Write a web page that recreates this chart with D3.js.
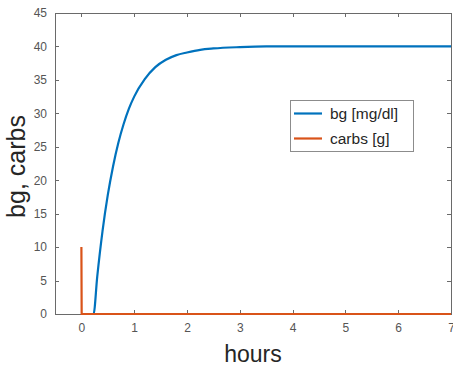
<!DOCTYPE html>
<html>
<head>
<meta charset="utf-8">
<script src="https://cdn.jsdelivr.net/npm/d3@7"></script>
<style>
  html, body { margin: 0; padding: 0; background: #fff; }
  svg { display: block; font-family: "Liberation Sans", Arial, Helvetica, sans-serif; }
</style>
</head>
<body>
<svg id="chart" width="453" height="368"></svg>
<script>
// ---- data ----
const bgHours = [0, 0.23, 0.3, 0.4, 0.5, 0.6, 0.7, 0.8, 0.9, 1.0, 1.2, 1.4, 1.6, 1.8, 2.0, 2.25, 2.5, 3.0, 3.5, 4, 5, 6, 7];
const bgValues = [0, 0, 5.6, 12.4, 17.8, 22.1, 25.6, 28.4, 30.7, 32.5, 35.1, 36.9, 38.0, 38.7, 39.1, 39.5, 39.7, 39.9, 40.0, 40, 40, 40, 40];
const carbsHours = [0, 0.005, 7];
const carbsValues = [10, 0, 0];
const xTicks = [0, 1, 2, 3, 4, 5, 6, 7];
const yTicks = [0, 5, 10, 15, 20, 25, 30, 35, 40, 45];
const seriesNames = ["bg [mg/dl]", "carbs [g]"];
const seriesColors = ["#0072BD", "#D95319"];

// ---- layout ----
const svg = d3.select("#chart");
const L = 55, R = 451, T = 13, B = 314;
const x = d3.scaleLinear().domain([-0.5, 7]).range([L, R]);
const y = d3.scaleLinear().domain([0, 45]).range([B, T]);
const axisColor = "#6a6a6a";
const labelColor = "#555";
const tickLen = 4;

// box
svg.append("rect").attr("x", L).attr("y", T).attr("width", R - L).attr("height", B - T)
  .attr("fill", "none").attr("stroke", axisColor).attr("stroke-width", 1).attr("shape-rendering", "crispEdges");

function styleAxis(g) {
  g.select(".domain").remove();
  g.selectAll(".tick line").attr("stroke", axisColor).attr("shape-rendering", "crispEdges");
  g.selectAll(".tick text").attr("fill", labelColor).attr("font-size", 12).attr("font-family", "Liberation Sans, Arial, sans-serif");
}

// bottom axis (ticks inward)
svg.append("g").attr("transform", `translate(0,${B})`)
  .call(d3.axisBottom(x).tickValues(xTicks).tickFormat(d3.format("d")).tickSizeInner(-tickLen).tickSizeOuter(0).tickPadding(9))
  .call(styleAxis);
// top ticks
svg.append("g").attr("transform", `translate(0,${T})`)
  .call(d3.axisTop(x).tickValues(xTicks).tickFormat("").tickSizeInner(-tickLen).tickSizeOuter(0))
  .call(styleAxis);
// left axis
svg.append("g").attr("transform", `translate(${L},0)`)
  .call(d3.axisLeft(y).tickValues(yTicks).tickFormat(d3.format("d")).tickSizeInner(-tickLen).tickSizeOuter(0).tickPadding(8))
  .call(styleAxis);
// right ticks
svg.append("g").attr("transform", `translate(${R},0)`)
  .call(d3.axisRight(y).tickValues(yTicks).tickFormat("").tickSizeInner(-tickLen).tickSizeOuter(0))
  .call(styleAxis);

// lines
const plot = svg.append("g");
const bgLine = d3.line().x((d, i) => x(bgHours[i])).y(d => y(d)).curve(d3.curveMonotoneX);
plot.append("path").datum(bgValues).attr("d", bgLine)
  .attr("fill", "none").attr("stroke", seriesColors[0]).attr("stroke-width", 2.2);
const carbLine = d3.line().x((d, i) => x(carbsHours[i])).y(d => y(d));
plot.append("path").datum(carbsValues).attr("d", carbLine)
  .attr("fill", "none").attr("stroke", seriesColors[1]).attr("stroke-width", 2.2);

// axis labels
svg.append("text").attr("x", (L + R) / 2).attr("y", 362).attr("text-anchor", "middle")
  .attr("font-size", 23).attr("fill", "#262626").text("hours");
svg.append("text").attr("transform", `translate(25,${(T + B) / 2 + 3}) rotate(-90)`).attr("text-anchor", "middle")
  .attr("font-size", 25).attr("fill", "#262626").text("bg, carbs");

// legend
const lg = svg.append("g");
lg.append("rect").attr("x", 290.5).attr("y", 100.5).attr("width", 123).attr("height", 51)
  .attr("fill", "#fff").attr("stroke", "#8c8c8c").attr("stroke-width", 1);
seriesNames.forEach((name, i) => {
  const yy = 113.5 + i * 25;
  lg.append("line").attr("x1", 294).attr("x2", 322).attr("y1", yy).attr("y2", yy)
    .attr("stroke", seriesColors[i]).attr("stroke-width", 2.2);
  lg.append("text").attr("x", 330).attr("y", yy + 5.5).attr("font-size", 15.5)
    .attr("fill", "#262626").text(name);
});
</script>
</body>
</html>
